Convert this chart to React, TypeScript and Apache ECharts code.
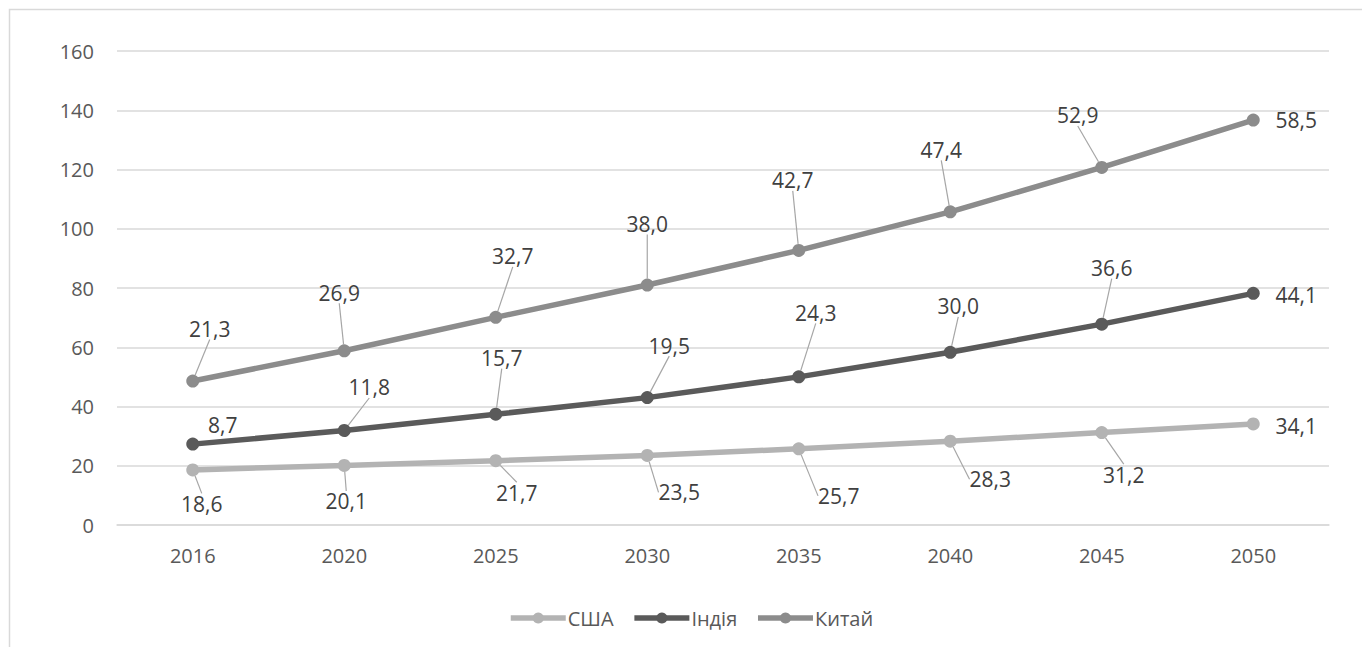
import React, { useEffect, useRef } from "react";
import * as echarts from "echarts";

const years = ["2016", "2020", "2025", "2030", "2035", "2040", "2045", "2050"];
const seriesNames = ["США", "Індія", "Китай"];
const usa = [18.6, 20.1, 21.7, 23.5, 25.7, 28.3, 31.2, 34.1];
const india = [8.7, 11.8, 15.7, 19.5, 24.3, 30.0, 36.6, 44.1];
const china = [21.3, 26.9, 32.7, 38.0, 42.7, 47.4, 52.9, 58.5];
const yMin = 0;
const yMax = 160;
const yStep = 20;

// label placement (pixel offsets from the point, like Excel's dragged data labels)
const usaLabelOffsets = [[9, 34], [2, 36], [21, 32], [32, 37], [40, 47], [40, 38], [22, 42], [43, 2]];
const indiaLabelOffsets = [[30, -19], [25, -43], [6, -56], [22, -52], [17, -64], [8, -46], [10, -56], [43, 2]];
const chinaLabelOffsets = [[17, -52], [-5, -58], [17, -61], [0, -61], [-6, -70], [-9, -62], [-24, -52], [43, 0]];
const usaNoLine = [7];
const indiaNoLine = [0, 7];
const chinaNoLine = [7];

const colors = ["#b3b3b3", "#5a5a5a", "#8c8c8c"];
const FONT = "'Open Sans', 'Noto Sans', sans-serif";

function makeSeries(name: string, values: number[], offsets: number[][], noLine: number[], color: string) {
  return {
    name,
    type: "line",
    stack: "total",
    data: values.map((v, i) =>
      noLine.includes(i) ? { value: v, labelLine: { show: false } } : { value: v }
    ),
    symbol: "circle",
    symbolSize: 13,
    itemStyle: { color },
    lineStyle: { color, width: 5.5 },
    label: {
      show: true,
      position: "inside",
      fontFamily: FONT,
      fontSize: 21,
      color: "#404040",
      padding: [3, 4],
      formatter: (p: any) => Number(p.value).toFixed(1).replace(".", ","),
    },
    labelLine: {
      show: true,
      length2: 0,
      minTurnAngle: 0,
      lineStyle: { color: "#a6a6a6", width: 1.2 },
    },
    labelLayout: (p: any) => {
      const o = offsets[p.dataIndex];
      return { dx: o[0], dy: o[1] };
    },
  };
}

export default function App() {
  const ref = useRef<HTMLDivElement>(null);
  useEffect(() => {
    if (!ref.current) return;
    const chart = echarts.init(ref.current, null, { renderer: "svg" });
    chart.setOption({
      animation: false,
      backgroundColor: "#ffffff",
      color: colors,
      textStyle: { fontFamily: FONT },
      graphic: [
        {
          type: "rect",
          shape: { x: 9.5, y: 9.5, width: 1400, height: 700 },
          style: { fill: "none", stroke: "#d9d9d9", lineWidth: 1.5 },
          silent: true,
          z: -10,
        },
      ],
      grid: { left: 117, right: 33, top: 51, bottom: 122, containLabel: false },
      legend: {
        data: seriesNames,
        left: 503,
        top: 603,
        itemWidth: 55,
        itemHeight: 14,
        itemGap: 18,
        lineStyle: { width: 5.5 },
        textStyle: { fontFamily: FONT, fontSize: 20, color: "#595959", padding: [0, 0, 0, -3] },
      },
      xAxis: {
        type: "category",
        data: years,
        boundaryGap: true,
        axisLine: { show: true, lineStyle: { color: "#d9d9d9", width: 1.5 } },
        axisTick: { show: false },
        axisLabel: { fontFamily: FONT, fontSize: 20, color: "#595959", margin: 20 },
      },
      yAxis: {
        type: "value",
        min: yMin,
        max: yMax,
        interval: yStep,
        axisLine: { show: false },
        axisTick: { show: false },
        splitLine: { lineStyle: { color: "#d9d9d9", width: 1.5 } },
        axisLabel: { fontFamily: FONT, fontSize: 20, color: "#595959", margin: 23 },
      },
      series: [
        makeSeries(seriesNames[0], usa, usaLabelOffsets, usaNoLine, colors[0]),
        makeSeries(seriesNames[1], india, indiaLabelOffsets, indiaNoLine, colors[1]),
        makeSeries(seriesNames[2], china, chinaLabelOffsets, chinaNoLine, colors[2]),
      ],
    });
    return () => chart.dispose();
  }, []);
  return (
    <div
      ref={ref}
      style={{ position: "absolute", left: 0, top: 0, width: 1362, height: 647 }}
    />
  );
}
